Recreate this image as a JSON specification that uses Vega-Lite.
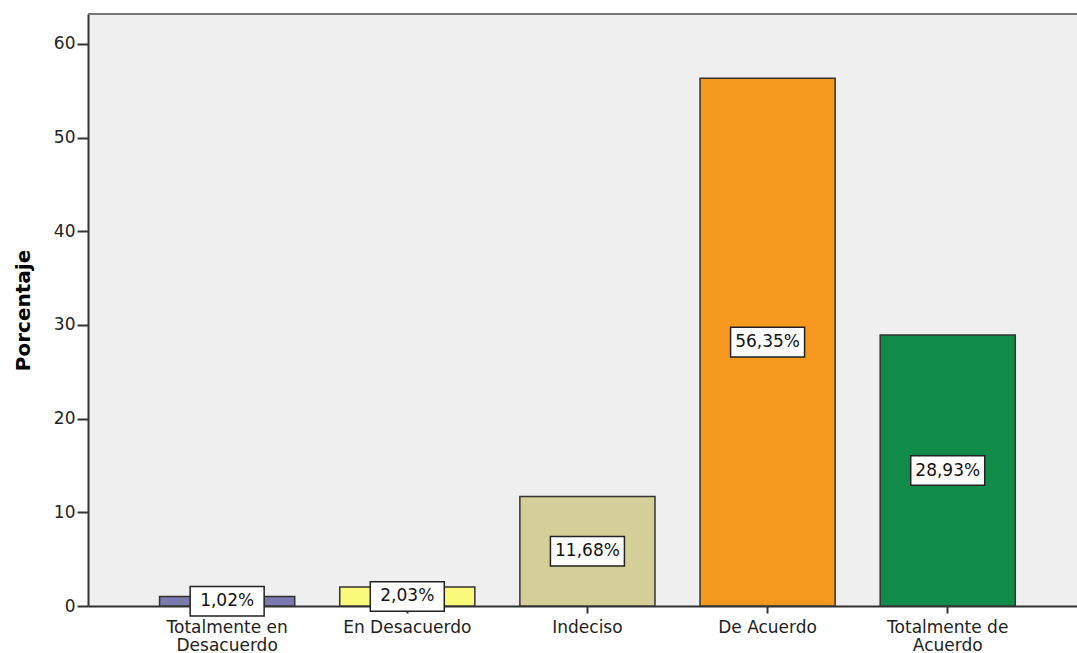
{
  "$schema": "https://vega.github.io/schema/vega-lite/v6.json",
  "autosize": "none",
  "width": 989,
  "height": 592,
  "padding": {"left": 88, "top": 14, "right": 0, "bottom": 47},
  "background": "white",
  "config": {
    "view": {"fill": "#efefef", "stroke": null},
    "font": "DejaVu Sans"
  },
  "data": {
    "values": [
      {"cat": "Totalmente en Desacuerdo", "value": 1.02, "label": "1,02%"},
      {"cat": "En Desacuerdo", "value": 2.03, "label": "2,03%"},
      {"cat": "Indeciso", "value": 11.68, "label": "11,68%"},
      {"cat": "De Acuerdo", "value": 56.35, "label": "56,35%"},
      {"cat": "Totalmente de Acuerdo", "value": 28.93, "label": "28,93%"}
    ]
  },
  "encoding": {
    "x": {
      "field": "cat",
      "type": "nominal",
      "sort": null,
      "scale": {"paddingInner": 0.25, "paddingOuter": 0.37, "align": 0.537},
      "axis": {
        "title": null,
        "labelAngle": 0,
        "labelFontSize": 17,
        "labelColor": "#222",
        "labelPadding": 6,
        "labelLineHeight": 18,
        "labelLimit": 0,
        "labelExpr": "datum.label == 'Totalmente en Desacuerdo' ? ['Totalmente en','Desacuerdo'] : datum.label == 'Totalmente de Acuerdo' ? ['Totalmente de','Acuerdo'] : datum.label",
        "domainColor": "#333",
        "domainWidth": 2,
        "tickColor": "#333",
        "tickWidth": 2,
        "tickSize": 7
      }
    }
  },
  "layer": [
    {
      "mark": {"type": "rule", "color": "#777", "strokeWidth": 2},
      "encoding": {"x": null, "y": {"datum": 63.2, "type": "quantitative"}}
    },
    {
      "mark": {"type": "bar", "stroke": "#333", "strokeWidth": 1.5},
      "encoding": {
        "y": {
          "field": "value",
          "type": "quantitative",
          "scale": {"domain": [0, 63.2], "nice": false},
          "axis": {
            "title": "Porcentaje",
            "titleFontSize": 20,
            "titleFontWeight": "bold",
            "titleColor": "#000",
            "titlePadding": 20,
            "values": [0, 10, 20, 30, 40, 50, 60],
            "grid": false,
            "labelFontSize": 17,
            "labelColor": "#222",
            "labelPadding": 2,
            "domainColor": "#333",
            "domainWidth": 2,
            "tickColor": "#333",
            "tickWidth": 2,
            "tickSize": 11
          }
        },
        "color": {
          "field": "cat",
          "type": "nominal",
          "sort": null,
          "scale": {
            "domain": ["Totalmente en Desacuerdo", "En Desacuerdo", "Indeciso", "De Acuerdo", "Totalmente de Acuerdo"],
            "range": ["#7a7aae", "#f9f97a", "#d4cf98", "#f7981f", "#108b48"]
          },
          "legend": null
        }
      }
    },
    {
      "transform": [{"calculate": "datum.value / 2", "as": "mid"}],
      "mark": {
        "type": "point",
        "shape": "M-1,-0.4L1,-0.4L1,0.4L-1,0.4Z",
        "filled": true,
        "fill": "white",
        "stroke": "#222",
        "strokeWidth": 1.5,
        "size": 5476,
        "opacity": 1
      },
      "encoding": {"y": {"field": "mid", "type": "quantitative"}}
    },
    {
      "transform": [{"calculate": "datum.value / 2", "as": "mid"}],
      "mark": {"type": "text", "fontSize": 17, "color": "#111", "baseline": "middle", "align": "center"},
      "encoding": {
        "y": {"field": "mid", "type": "quantitative"},
        "text": {"field": "label"}
      }
    }
  ]
}
